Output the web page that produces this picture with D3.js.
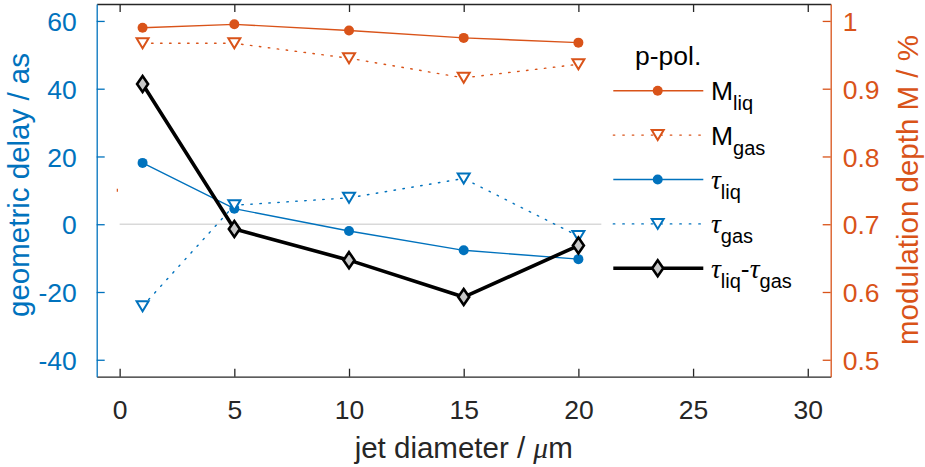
<!DOCTYPE html>
<html>
<head>
<meta charset="utf-8">
<script src="https://cdn.jsdelivr.net/npm/d3@7"></script>
<style>
  html, body { margin: 0; padding: 0; background: #fff; }
  svg { display: block; font-family: "Liberation Sans", Arial, Helvetica, sans-serif; }
</style>
</head>
<body>
<svg id="chart" width="925" height="467"></svg>
<script>
// Jet diameter in µm
const diameters = [1, 5, 10, 15, 20];

// Modulation depth (right axis)
const mLiq = [0.990, 0.995, 0.986, 0.975, 0.968];
const mGas = [0.967, 0.967, 0.945, 0.916, 0.936];

// Geometric delay in attoseconds (left axis)
const tauLiq = [18.1, 4.6, -2.0, -7.7, -10.3];
const tauGas = [-24.2, 5.6, 7.8, 13.5, -3.5];
const tauDiff = [41.4, -1.4, -10.6, -21.5, -6.3];

// Stray modulation-depth sample near the origin
const strayX = [-0.1];
const strayM = [0.75];

// Axis ticks
const xTicks = [0, 5, 10, 15, 20, 25, 30];
const leftTicks = [-40, -20, 0, 20, 40, 60];
const rightTicks = [0.5, 0.6, 0.7, 0.8, 0.9, 1];

const BLUE = "#0072BD", ORANGE = "#D95319", AX = "#262626";

const svg = d3.select("#chart");
const plot = { left: 96.7, right: 830.7, top: 4, bottom: 376.7 };

const x = d3.scaleLinear().domain([-1, 31]).range([plot.left, plot.right]);
const yL = d3.scaleLinear().domain([-45, 65]).range([plot.bottom, plot.top]);
const yR = d3.scaleLinear().domain([0.475, 1.025]).range([plot.bottom, plot.top]);

const TICK_FONT = 26.5, LABEL_FONT = 29.5, LEG_FONT = 26.5, SUB_FONT = 20;

// Plain hyphen for negative numbers
const numFmt = d => String(d);

// Zero reference line
svg.append("line")
  .attr("x1", x(0)).attr("x2", x(21))
  .attr("y1", yL(0)).attr("y2", yL(0))
  .attr("stroke", "#d9d9d9").attr("stroke-width", 1.5);

// Axes
function styleAxis(g, color) {
  g.selectAll("path.domain").attr("stroke", color).attr("stroke-width", 1.3);
  g.selectAll(".tick line").attr("stroke", color).attr("stroke-width", 1.3);
  g.selectAll(".tick text").attr("fill", color)
    .attr("font-size", TICK_FONT)
    .attr("font-family", "Liberation Sans, Arial, sans-serif");
}

const gx = svg.append("g").attr("transform", `translate(0,${plot.bottom})`)
  .call(d3.axisBottom(x).tickValues(xTicks).tickSizeInner(-8).tickSizeOuter(0).tickFormat(numFmt));
styleAxis(gx, AX);
gx.selectAll(".tick text").attr("dy", "0.71em").attr("y", 23.5);

const gxTop = svg.append("g").attr("transform", `translate(0,${plot.top})`)
  .call(d3.axisTop(x).tickValues(xTicks).tickSizeInner(-8).tickSizeOuter(0).tickFormat(""));
styleAxis(gxTop, AX);

const gl = svg.append("g").attr("transform", `translate(${plot.left},0)`)
  .call(d3.axisLeft(yL).tickValues(leftTicks).tickSizeInner(-8).tickSizeOuter(0).tickFormat(numFmt));
styleAxis(gl, BLUE);
gl.selectAll(".tick text").attr("x", -20).attr("dy", "0.36em");

const gr = svg.append("g").attr("transform", `translate(${plot.right},0)`)
  .call(d3.axisRight(yR).tickValues(rightTicks).tickSizeInner(-8).tickSizeOuter(0)
    .tickFormat(d => d === 1 ? "1" : d3.format(".1f")(d)));
styleAxis(gr, ORANGE);
gr.selectAll(".tick text").attr("x", 12).attr("dy", "0.36em");

// Axis labels
svg.append("text")
  .attr("x", (plot.left + plot.right) / 2).attr("y", 457.5)
  .attr("text-anchor", "middle").attr("fill", AX).attr("font-size", LABEL_FONT)
  .call(t => {
    t.append("tspan").text("jet diameter / ");
    t.append("tspan").attr("font-family", "Liberation Serif, serif").attr("font-style", "italic").text("μ");
    t.append("tspan").text("m");
  });

svg.append("text")
  .attr("transform", "translate(28.5,185) rotate(-90)")
  .attr("text-anchor", "middle").attr("fill", BLUE).attr("font-size", LABEL_FONT)
  .text("geometric delay / as");

svg.append("text")
  .attr("transform", "translate(917.5,190) rotate(-90)")
  .attr("text-anchor", "middle").attr("fill", ORANGE).attr("font-size", LABEL_FONT)
  .text("modulation depth M / %");

// Marker shapes
const diamondPath = "M0,-8L5.5,0L0,8L-5.5,0Z";
const triPath = "M-6,-5L6,-5L0,5Z";

function drawSeries(xs, ys, yScale, opt) {
  const pts = xs.map((d, i) => [x(d), yScale(ys[i])]);
  svg.append("path")
    .attr("d", d3.line()(pts))
    .attr("fill", "none")
    .attr("stroke", opt.color)
    .attr("stroke-width", opt.width)
    .attr("stroke-dasharray", opt.dash || null)
    .attr("stroke-linecap", opt.dash ? "round" : "butt")
    .attr("stroke-linejoin", "miter");
  pts.forEach(p => drawMarker(p[0], p[1], opt));
}

function drawMarker(px, py, opt) {
  if (opt.marker === "circle") {
    svg.append("circle").attr("cx", px).attr("cy", py).attr("r", 5).attr("fill", opt.color);
  } else if (opt.marker === "tri") {
    svg.append("path").attr("d", triPath).attr("transform", `translate(${px},${py})`)
      .attr("fill", "#fff").attr("stroke", opt.color).attr("stroke-width", 2)
      .attr("stroke-linejoin", "miter");
  } else if (opt.marker === "diamond") {
    svg.append("path").attr("d", diamondPath).attr("transform", `translate(${px},${py})`)
      .attr("fill", "#c8c8c8").attr("stroke", "#000").attr("stroke-width", 2.6)
      .attr("stroke-linejoin", "miter");
  }
}

const series = [
  { name: "M", sub: "liq", xs: diameters, ys: mLiq, scale: yR, color: ORANGE, width: 1.4, marker: "circle" },
  { name: "M", sub: "gas", xs: diameters, ys: mGas, scale: yR, color: ORANGE, width: 1.4, dash: "1.5,7.5", marker: "tri" },
  { name: "τ", sub: "liq", xs: diameters, ys: tauLiq, scale: yL, color: BLUE, width: 1.4, marker: "circle" },
  { name: "τ", sub: "gas", xs: diameters, ys: tauGas, scale: yL, color: BLUE, width: 1.4, dash: "1.5,7.5", marker: "tri" },
  { name: "diff", xs: diameters, ys: tauDiff, scale: yL, color: "#000", width: 3.6, marker: "diamond" }
];

// Stray sample
strayX.forEach((d, i) => {
  svg.append("line")
    .attr("x1", x(d)).attr("x2", x(d))
    .attr("y1", yR(strayM[i]) - 1.5).attr("y2", yR(strayM[i]) + 1.5)
    .attr("stroke", ORANGE).attr("stroke-width", 1.2);
});

series.forEach(s => drawSeries(s.xs, s.ys, s.scale, s));

// Legend
const leg = { x1: 613.3, x2: 703.3, mx: 657.7, tx: 711, y0: 90.7, dy: 44.4 };
svg.append("text").attr("x", 635).attr("y", 65).attr("fill", "#000")
  .attr("font-size", LEG_FONT).text("p-pol.");

function tauSpan(t, sub) {
  t.append("tspan").attr("font-family", "Liberation Serif, serif").attr("font-style", "italic")
    .attr("font-size", LEG_FONT + 1).text("τ");
  t.append("tspan").attr("font-size", SUB_FONT).attr("dy", 10).text(sub);
}

series.forEach((s, i) => {
  const yy = leg.y0 + i * leg.dy;
  svg.append("line").attr("x1", leg.x1).attr("x2", leg.x2).attr("y1", yy).attr("y2", yy)
    .attr("stroke", s.color).attr("stroke-width", s.width)
    .attr("stroke-dasharray", s.dash ? "1.5,8" : null)
    .attr("stroke-linecap", s.dash ? "round" : "butt");
  drawMarker(leg.mx, yy, s);
  const t = svg.append("text").attr("x", leg.tx).attr("y", yy + 9.5)
    .attr("fill", "#000").attr("font-size", LEG_FONT);
  if (s.name === "M") {
    t.append("tspan").text("M");
    t.append("tspan").attr("font-size", SUB_FONT).attr("dy", 10).text(s.sub);
  } else if (s.name === "τ") {
    tauSpan(t, s.sub);
  } else {
    tauSpan(t, "liq");
    t.append("tspan").attr("dy", -10).text("-");
    t.append("tspan").attr("font-family", "Liberation Serif, serif").attr("font-style", "italic")
      .attr("font-size", LEG_FONT + 1).text("τ");
    t.append("tspan").attr("font-size", SUB_FONT).attr("dy", 10).text("gas");
  }
});
</script>
</body>
</html>
